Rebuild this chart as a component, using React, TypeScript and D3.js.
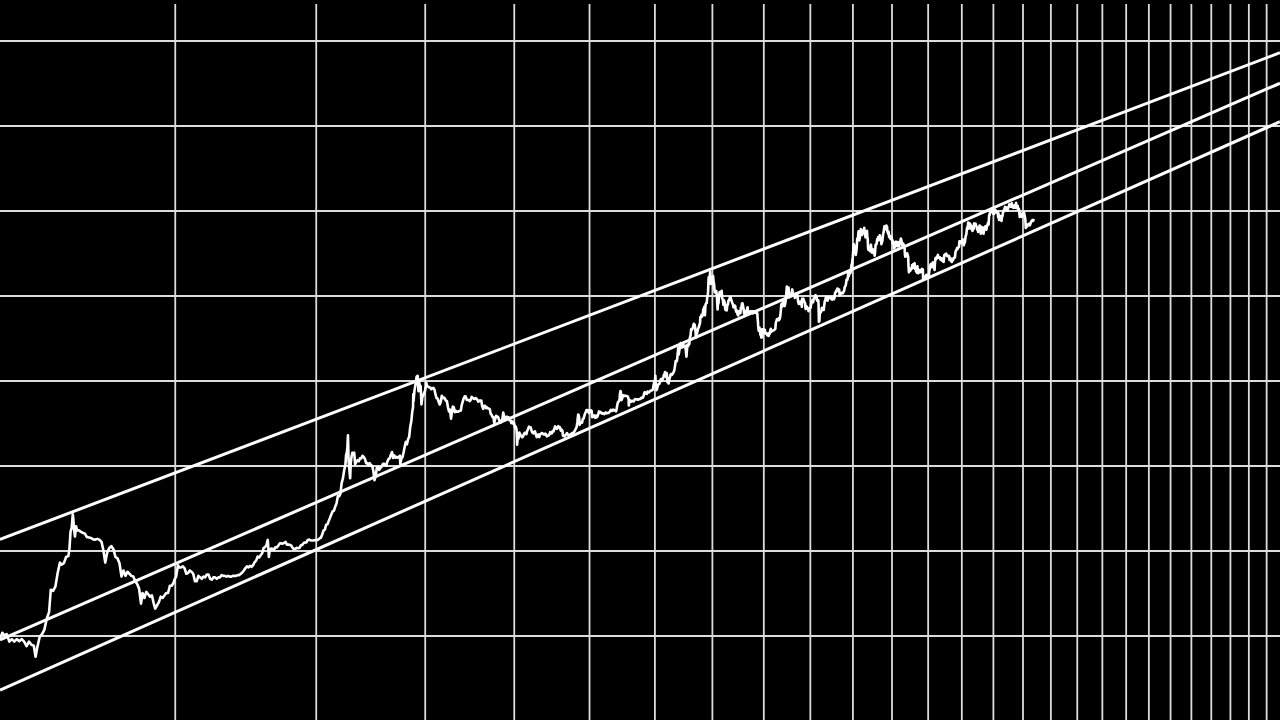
import React from "react";
import * as d3 from "d3";

type Row = [number, number, number]; // [month, day, close price USD]

const GENESIS = Date.UTC(2009, 0, 3);
const DAY_MS = 86400000;

// x: days since genesis (log), y: price USD (log)
const xDomainDays: [number, number] = [763.3, 10508.8];
const yDomainPrice: [number, number] = [1, 1e7];
const gridYears = d3.range(2012, 2038);
const gridPrices = [1, 10, 100, 1e3, 1e4, 1e5, 1e6, 1e7];

// power-law bands: log10(price) = coef + exponent * log10(days)
const bandNames = ["top", "middle", "bottom"];
const bandLog10Coef = [-13.358, -16.625, -17.56];
const bandExponent = [5.028, 5.751, 5.871];

const p2011: Row[] = [[2,5,0.92],[2,9,1.09],[2,12,1.02],[2,16,1.05],[2,20,0.86],[2,24,0.92],[2,28,0.86],[3,4,0.92],[3,8,0.87],[3,12,0.92],[3,16,0.86],[3,20,0.76],[3,24,0.86],[3,28,0.79],[4,1,0.77],[4,4,0.57],[4,7,0.74],[4,11,0.98],[4,15,1.05],[4,19,1.19],[4,23,1.6],[4,27,1.9],[4,30,3.5],[5,4,3.4],[5,8,3.8],[5,12,5.5],[5,16,7.3],[5,19,6.9],[5,23,7.2],[5,27,8.5],[5,31,8.7],[6,2,10.6],[6,4,17],[6,6,18.5],[6,8,27],[6,9,24],[6,10,19],[6,12,14.8],[6,14,19.5],[6,16,17.5],[6,19,17.5],[6,23,16.8],[6,26,16.4],[6,30,16.1],[7,4,14.6],[7,8,14.4],[7,12,14.2],[7,16,13.7],[7,20,13.6],[7,24,13.9],[7,28,13.5],[8,1,12.7],[8,4,10.4],[8,8,7.3],[8,12,9.7],[8,16,10.9],[8,20,11.4],[8,24,10.5],[8,28,8.5],[9,1,8.2],[9,5,7.2],[9,9,5.0],[9,13,5.9],[9,17,5.1],[9,21,5.7],[9,25,5.4],[9,29,5.1],[10,3,5.0],[10,7,4.4],[10,11,4.1],[10,15,3.6],[10,19,2.4],[10,22,3.2],[10,26,2.8],[10,30,3.3],[11,3,3.1],[11,7,2.9],[11,11,3.0],[11,15,2.4],[11,18,2.1],[11,22,2.3],[11,26,2.5],[11,30,2.9],[12,4,2.8],[12,8,3.0],[12,12,3.2],[12,16,3.2],[12,20,3.9],[12,24,3.9],[12,28,4.2],[12,31,4.7]];

const p2012: Row[] = [[1,3,5.0],[1,7,6.8],[1,10,6.4],[1,14,6.4],[1,18,6.6],[1,22,6.3],[1,26,5.4],[1,30,5.5],[2,3,5.9],[2,7,5.7],[2,11,5.4],[2,15,4.4],[2,19,4.4],[2,23,5.1],[2,27,4.9],[3,2,4.7],[3,6,5.0],[3,10,4.9],[3,14,5.3],[3,18,5.3],[3,22,4.7],[3,26,4.6],[3,30,4.9],[4,3,4.9],[4,7,4.7],[4,11,4.9],[4,15,4.9],[4,19,5.2],[4,23,5.1],[4,27,5.1],[5,1,5.0],[5,5,5.1],[5,9,5.0],[5,13,5.0],[5,17,5.1],[5,21,5.1],[5,25,5.1],[5,29,5.2],[6,2,5.2],[6,6,5.4],[6,10,5.6],[6,14,5.9],[6,18,6.3],[6,22,6.6],[6,26,6.4],[6,30,6.7],[7,4,6.5],[7,8,6.8],[7,12,7.4],[7,16,7.7],[7,20,8.6],[7,24,8.4],[7,28,8.9],[8,1,9.4],[8,5,10.9],[8,9,11.1],[8,13,11.9],[8,16,13.5],[8,17,12.0],[8,19,8.5],[8,21,9.9],[8,25,10.7],[8,29,10.6],[9,2,10.3],[9,6,11.1],[9,10,11.0],[9,14,11.6],[9,18,12.3],[9,22,12.3],[9,26,12.2],[9,30,12.4],[10,4,12.8],[10,8,11.9],[10,12,11.9],[10,16,11.8],[10,20,11.6],[10,24,10.9],[10,28,10.5],[11,1,10.6],[11,5,10.9],[11,9,10.8],[11,13,10.9],[11,17,11.7],[11,21,11.8],[11,25,12.4],[11,29,12.6],[12,3,12.6],[12,7,13.5],[12,11,13.6],[12,15,13.4],[12,19,13.3],[12,23,13.3],[12,27,13.4],[12,31,13.5]];

const p2013: Row[] = [[1,3,13.4],[1,7,13.6],[1,11,14.1],[1,15,14.3],[1,19,15.6],[1,23,17.5],[1,27,17.8],[1,31,20.4],[2,4,20.6],[2,8,22.6],[2,12,24.7],[2,16,27.1],[2,20,29.4],[2,24,29.8],[2,28,33.4],[3,4,36.2],[3,8,44.2],[3,12,44.0],[3,16,47.0],[3,20,63.0],[3,24,71.5],[3,28,89.0],[4,1,104],[4,3,135],[4,5,142],[4,7,162],[4,9,230],[4,10,165],[4,11,115],[4,13,95],[4,16,72],[4,18,110],[4,20,126],[4,23,143],[4,26,137],[4,29,144],[5,2,105],[5,6,112],[5,10,117],[5,14,114],[5,18,123],[5,22,123],[5,26,132],[5,30,128],[6,3,121],[6,7,108],[6,11,108],[6,15,101],[6,19,108],[6,23,102],[6,27,101],[7,1,88],[7,5,68],[7,9,76],[7,13,96],[7,17,97],[7,21,90],[7,25,95],[7,29,98],[8,2,105],[8,6,107],[8,10,103],[8,14,101],[8,18,113],[8,22,121],[8,26,123],[8,30,136],[9,3,146],[9,7,124],[9,11,133],[9,15,125],[9,19,128],[9,23,125],[9,27,128],[10,1,132],[10,2,105],[10,6,122],[10,10,127],[10,14,145],[10,18,169],[10,22,192],[10,26,180],[10,30,206],[11,3,220],[11,7,290],[11,11,340],[11,14,430],[11,17,490],[11,18,700],[11,19,580],[11,22,760],[11,26,910],[11,30,1120],[12,4,1150],[12,7,760],[12,9,990],[12,12,880],[12,15,870],[12,18,530],[12,21,640],[12,25,680],[12,29,740],[12,31,760]];

const p2014: Row[] = [[1,4,880],[1,5,950],[1,8,860],[1,12,860],[1,16,840],[1,20,840],[1,24,800],[1,28,820],[2,1,830],[2,5,790],[2,9,690],[2,13,630],[2,17,620],[2,21,570],[2,25,530],[3,1,570],[3,5,670],[3,9,630],[3,13,640],[3,17,620],[3,21,585],[3,25,580],[3,29,490],[4,2,440],[4,6,460],[4,10,360],[4,13,420],[4,17,500],[4,21,490],[4,25,430],[4,29,445],[5,3,435],[5,7,435],[5,11,440],[5,15,445],[5,19,450],[5,23,525],[5,27,575],[5,31,630],[6,4,660],[6,8,655],[6,12,600],[6,16,600],[6,20,595],[6,24,580],[6,28,600],[7,2,650],[7,6,635],[7,10,620],[7,14,615],[7,18,630],[7,22,620],[7,26,595],[7,30,570],[8,3,590],[8,7,585],[8,11,590],[8,15,500],[8,19,470],[8,23,510],[8,27,510],[8,31,480],[9,4,490],[9,8,475],[9,12,475],[9,16,465],[9,20,410],[9,24,400],[9,28,375],[10,2,375],[10,5,320],[10,9,355],[10,13,390],[10,17,380],[10,21,380],[10,25,355],[10,29,335],[11,2,325],[11,6,340],[11,10,365],[11,13,425],[11,17,385],[11,21,350],[11,25,375],[11,29,380],[12,3,375],[12,7,375],[12,11,345],[12,15,345],[12,19,320],[12,23,335],[12,27,315],[12,31,320]];

const p2015: Row[] = [[1,4,285],[1,8,290],[1,11,270],[1,13,225],[1,14,178],[1,16,208],[1,20,210],[1,24,248],[1,28,235],[2,1,226],[2,5,218],[2,9,220],[2,13,236],[2,17,245],[2,21,245],[2,25,237],[3,1,260],[3,5,272],[3,9,290],[3,13,285],[3,17,286],[3,21,260],[3,25,247],[3,29,242],[4,2,253],[4,6,255],[4,10,236],[4,14,219],[4,18,223],[4,22,235],[4,26,219],[4,30,236],[5,4,239],[5,8,244],[5,12,242],[5,16,236],[5,20,234],[5,24,240],[5,28,237],[6,1,223],[6,5,225],[6,9,229],[6,13,233],[6,17,250],[6,21,245],[6,25,242],[6,29,257],[7,3,255],[7,7,270],[7,11,292],[7,15,286],[7,19,273],[7,23,277],[7,27,294],[7,31,284],[8,4,285],[8,8,261],[8,12,267],[8,16,259],[8,19,226],[8,23,228],[8,27,223],[8,31,230],[9,4,236],[9,8,244],[9,12,235],[9,16,229],[9,20,231],[9,24,234],[9,28,239],[10,2,237],[10,6,246],[10,10,246],[10,14,253],[10,18,262],[10,22,275],[10,26,285],[10,30,328],[11,3,403],[11,5,400],[11,8,373],[11,11,305],[11,15,320],[11,19,326],[11,23,323],[11,27,358],[12,1,362],[12,5,388],[12,9,417],[12,13,435],[12,16,455],[12,20,443],[12,24,455],[12,28,422],[12,31,430]];

const p2016: Row[] = [[1,4,433],[1,8,453],[1,12,446],[1,15,375],[1,19,379],[1,23,388],[1,27,395],[1,31,369],[2,4,391],[2,8,374],[2,12,384],[2,16,406],[2,20,439],[2,24,424],[2,28,433],[3,3,421],[3,7,412],[3,11,420],[3,15,415],[3,19,408],[3,23,418],[3,27,426],[3,31,416],[4,4,420],[4,8,419],[4,12,423],[4,16,430],[4,20,441],[4,24,458],[4,28,448],[5,2,444],[5,6,460],[5,10,450],[5,14,456],[5,18,453],[5,22,439],[5,26,471],[5,30,531],[6,3,569],[6,7,575],[6,11,605],[6,13,700],[6,16,760],[6,18,750],[6,21,665],[6,22,595],[6,26,627],[6,30,674],[7,4,678],[7,8,666],[7,12,672],[7,16,665],[7,20,666],[7,24,661],[7,28,654],[8,1,607],[8,2,515],[8,6,588],[8,10,593],[8,14,570],[8,18,574],[8,22,586],[8,26,578],[8,30,576],[9,3,599],[9,7,614],[9,11,606],[9,15,607],[9,19,610],[9,23,602],[9,27,606],[10,1,613],[10,5,612],[10,9,617],[10,13,636],[10,17,638],[10,21,632],[10,25,652],[10,29,715],[11,2,741],[11,6,711],[11,10,715],[11,14,705],[11,18,751],[11,22,740],[11,26,733],[11,30,745],[12,4,766],[12,8,769],[12,12,780],[12,16,781],[12,20,791],[12,24,891],[12,28,975],[12,31,964]];

const p2017: Row[] = [[1,4,1150],[1,6,890],[1,9,905],[1,11,780],[1,15,820],[1,19,900],[1,23,920],[1,27,920],[1,31,970],[2,4,1035],[2,8,1060],[2,12,1000],[2,16,1040],[2,20,1080],[2,24,1180],[2,28,1190],[3,3,1275],[3,7,1230],[3,10,1110],[3,14,1240],[3,18,970],[3,22,1040],[3,25,935],[3,29,1040],[4,2,1100],[4,6,1190],[4,10,1210],[4,14,1180],[4,18,1210],[4,22,1230],[4,26,1290],[4,30,1350],[5,4,1510],[5,8,1720],[5,12,1690],[5,16,1730],[5,20,2040],[5,24,2450],[5,27,2050],[5,31,2300],[6,4,2520],[6,8,2790],[6,12,2660],[6,16,2470],[6,20,2760],[6,24,2620],[6,28,2580],[7,2,2500],[7,6,2610],[7,10,2390],[7,15,1930],[7,18,2270],[7,21,2670],[7,25,2560],[7,29,2730],[8,2,2710],[8,6,3230],[8,10,3420],[8,14,4060],[8,18,4000],[8,22,4090],[8,26,4350],[8,31,4700],[9,2,4580],[9,6,4600],[9,10,4120],[9,14,3240],[9,17,3700],[9,21,3630],[9,25,3930],[9,29,4170],[10,3,4310],[10,7,4610],[10,11,4830],[10,13,5650],[10,17,5600],[10,21,6010],[10,25,5740],[10,29,6150],[11,2,7020],[11,6,6960],[11,8,7460],[11,12,5950],[11,16,7870],[11,20,8200],[11,24,8250],[11,28,9890],[11,30,9940],[12,3,11250],[12,7,16600],[12,10,15060],[12,13,16400],[12,17,19140],[12,20,16500],[12,22,13830],[12,26,15840],[12,29,14600],[12,31,14160]];

const p2018: Row[] = [[1,3,15200],[1,6,17170],[1,9,14600],[1,12,13900],[1,16,11180],[1,19,11600],[1,23,10840],[1,27,11440],[1,31,10220],[2,2,8830],[2,5,6960],[2,8,8270],[2,11,8130],[2,15,10170],[2,19,11120],[2,22,10000],[2,26,10320],[3,2,11000],[3,5,11500],[3,9,9230],[3,13,9150],[3,17,7890],[3,21,8910],[3,25,8460],[3,29,7100],[4,1,6840],[4,5,6810],[4,9,6780],[4,13,7930],[4,17,7900],[4,21,8860],[4,25,8860],[4,29,9420],[5,3,9700],[5,6,9650],[5,10,9040],[5,14,8670],[5,18,8240],[5,22,8010],[5,26,7350],[5,30,7400],[6,3,7720],[6,7,7690],[6,11,6780],[6,15,6500],[6,19,6750],[6,23,6120],[6,28,5900],[7,2,6620],[7,6,6600],[7,10,6290],[7,14,6270],[7,18,7380],[7,22,7400],[7,25,8180],[7,29,8220],[8,2,7610],[8,6,6950],[8,10,6180],[8,14,6200],[8,18,6380],[8,22,6360],[8,26,6710],[8,30,6980],[9,4,7370],[9,8,6250],[9,12,6330],[9,16,6500],[9,20,6480],[9,24,6610],[9,28,6630],[10,2,6540],[10,6,6580],[10,11,6240],[10,15,6610],[10,20,6500],[10,25,6420],[10,31,6310],[11,5,6390],[11,10,6400],[11,14,6200],[11,15,5700],[11,19,4820],[11,20,4450],[11,24,3900],[11,28,4280],[12,2,4140],[12,6,3520],[12,10,3440],[12,14,3240],[12,16,3250],[12,20,4060],[12,24,4040],[12,28,3850],[12,31,3740]];

const p2019: Row[] = [[1,5,4040],[1,9,4000],[1,10,3630],[1,14,3700],[1,19,3680],[1,23,3570],[1,28,3440],[2,2,3520],[2,7,3400],[2,8,3660],[2,14,3590],[2,18,3880],[2,23,4120],[2,24,3760],[3,1,3830],[3,8,3880],[3,15,3950],[3,22,4000],[3,29,4100],[4,2,4880],[4,6,5060],[4,10,5300],[4,16,5200],[4,23,5450],[4,26,5200],[5,1,5350],[5,6,5750],[5,11,6900],[5,14,7990],[5,17,7360],[5,22,7650],[5,27,8740],[5,31,8550],[6,4,7690],[6,9,7640],[6,14,8230],[6,18,9080],[6,22,10700],[6,26,12930],[6,28,12400],[7,2,10580],[7,6,11190],[7,10,12570],[7,14,10260],[7,17,9690],[7,22,10320],[7,26,9880],[7,31,10090],[8,4,10810],[8,8,11950],[8,13,10850],[8,17,10360],[8,21,10140],[8,25,10140],[8,29,9510],[9,3,10620],[9,8,10400],[9,13,10360],[9,18,10160],[9,24,8560],[9,29,8050],[10,4,8150],[10,10,8600],[10,16,8000],[10,22,8220],[10,24,7460],[10,26,9250],[10,31,9200],[11,5,9310],[11,10,8810],[11,15,8470],[11,20,8120],[11,22,7150],[11,25,7050],[11,30,7570],[12,5,7400],[12,10,7220],[12,15,7070],[12,17,6640],[12,21,7150],[12,26,7230],[12,31,7190]];

const p2020: Row[] = [[1,4,7400],[1,8,8080],[1,14,8820],[1,19,8700],[1,24,8440],[1,29,9390],[2,3,9320],[2,8,9900],[2,13,10240],[2,17,9930],[2,22,9660],[2,26,8780],[3,2,8910],[3,7,8900],[3,9,7940],[3,12,4970],[3,16,5010],[3,19,6190],[3,23,6420],[3,27,6370],[4,1,6640],[4,6,7270],[4,11,6860],[4,16,7120],[4,21,6840],[4,26,7700],[4,30,8620],[5,5,9010],[5,9,9530],[5,14,9790],[5,19,9730],[5,24,8790],[5,29,9420],[6,3,9670],[6,8,9760],[6,13,9470],[6,18,9410],[6,23,9630],[6,28,9120],[7,3,9070],[7,8,9430],[7,13,9260],[7,18,9170],[7,23,9600],[7,28,10950],[8,2,11050],[8,7,11600],[8,12,11580],[8,17,12250],[8,22,11680],[8,27,11330],[9,1,11920],[9,5,10170],[9,10,10340],[9,15,10790],[9,20,10920],[9,25,10740],[9,30,10780],[10,5,10790],[10,10,11300],[10,15,11500],[10,21,12820],[10,26,13030],[10,31,13800],[11,5,15590],[11,10,15300],[11,15,15960],[11,20,18680],[11,24,19160],[11,26,17150],[11,30,19630],[12,5,19150],[12,10,18550],[12,16,21310],[12,20,23480],[12,24,23730],[12,27,26270],[12,31,28990]];

const p2021: Row[] = [[1,3,32780],[1,8,40800],[1,11,35570],[1,14,39190],[1,18,36630],[1,22,33000],[1,27,30430],[1,31,33110],[2,4,36930],[2,8,46200],[2,12,47910],[2,16,49200],[2,21,57540],[2,23,48820],[2,28,45140],[3,4,48380],[3,8,52380],[3,13,61190],[3,18,57860],[3,22,54530],[3,25,52310],[3,31,58920],[4,5,59090],[4,10,59790],[4,14,63500],[4,18,56220],[4,22,51700],[4,25,49000],[4,30,57750],[5,5,57190],[5,9,58230],[5,12,49150],[5,16,46430],[5,19,36700],[5,23,34770],[5,27,38440],[5,31,37300],[6,4,36870],[6,8,33560],[6,13,39100],[6,15,40170],[6,19,35480],[6,22,32500],[6,26,32240],[6,30,35040],[7,4,35290],[7,9,33860],[7,14,32820],[7,20,29800],[7,24,33800],[7,28,39990],[8,1,39850],[8,6,40870],[8,11,45590],[8,14,47100],[8,18,44800],[8,22,49320],[8,27,49000],[9,1,48830],[9,6,51750],[9,8,46090],[9,13,44960],[9,18,48280],[9,21,40700],[9,25,42700],[9,30,43790],[10,4,49220],[10,8,53970],[10,12,56040],[10,16,60860],[10,20,65990],[10,24,61390],[10,28,60930],[11,1,61000],[11,5,61120],[11,8,67550],[11,10,64950],[11,14,65470],[11,18,56900],[11,22,56280],[11,26,53570],[11,30,57000],[12,4,49400],[12,8,50580],[12,12,50100],[12,16,47630],[12,20,46680],[12,24,50800],[12,28,47590],[12,31,46310]];

const p2022: Row[] = [[1,4,45900],[1,8,41680],[1,12,43950],[1,16,43100],[1,21,36280],[1,24,36650],[1,28,37710],[2,1,38740],[2,5,41410],[2,10,43570],[2,14,42590],[2,18,40000],[2,24,38330],[2,28,43190],[3,4,39140],[3,8,38740],[3,12,38810],[3,16,41120],[3,20,41260],[3,24,43970],[3,29,47470],[4,2,45810],[4,6,43170],[4,11,39530],[4,15,40550],[4,20,41500],[4,25,40430],[4,30,37710],[5,5,36550],[5,9,30300],[5,12,28940],[5,16,29830],[5,20,29200],[5,25,29540],[5,31,31790],[6,5,29900],[6,10,29090],[6,13,22490],[6,18,19000],[6,22,19970],[6,26,21030],[6,30,19780],[7,5,20190],[7,10,20820],[7,15,20830],[7,20,23150],[7,26,21310],[7,30,23630],[8,4,22620],[8,10,23950],[8,14,24310],[8,19,20830],[8,24,21530],[8,28,19550],[9,2,19950],[9,6,18790],[9,12,22370],[9,18,19420],[9,21,18480],[9,26,19220],[10,1,19310],[10,6,20160],[10,12,19060],[10,18,19330],[10,23,19570],[10,29,20820],[11,3,20150],[11,7,20600],[11,9,15880],[11,14,16620],[11,21,15790],[11,26,16450],[12,1,16970],[12,6,17090],[12,13,17780],[12,18,16740],[12,23,16780],[12,31,16550]];

const p2023: Row[] = [[1,5,16830],[1,9,17180],[1,13,19930],[1,18,20680],[1,23,22920],[1,29,23740],[2,3,23430],[2,9,21800],[2,15,24330],[2,20,24830],[2,25,23170],[3,3,22350],[3,10,20190],[3,13,24110],[3,18,27400],[3,22,28170],[3,28,27270],[4,2,28200],[4,10,29650],[4,14,30400],[4,20,28250],[4,26,28420],[5,1,28090],[5,7,28430],[5,12,26800],[5,18,26820],[5,24,26330],[5,30,27700],[6,5,25730],[6,10,25850],[6,15,25120],[6,21,30080],[6,27,30690],[7,3,31150],[7,9,30170],[7,13,31470],[7,19,29860],[7,26,29350],[8,1,29700],[8,8,29770],[8,14,29400],[8,17,26620],[8,23,26430],[8,29,27730],[9,4,25970],[9,11,25130],[9,18,26760],[9,25,26300],[10,1,27990],[10,8,27940],[10,16,28520],[10,23,33090],[10,29,34540],[11,5,35050],[11,9,36700],[11,16,36160],[11,23,37300],[11,30,37720],[12,5,44080],[12,10,43800],[12,16,41930],[12,22,43970],[12,28,42580],[12,31,42280]];

const p2024: Row[] = [[1,5,44160],[1,11,46340],[1,16,43150],[1,23,39510],[1,29,43300],[2,4,42580],[2,10,47750],[2,15,51840],[2,20,52280],[2,28,62500],[3,5,63800],[3,10,68950],[3,13,73080],[3,19,61910],[3,25,70000],[3,31,71330],[4,7,69360],[4,13,63900],[4,17,61280],[4,23,66400],[4,30,60610],[5,1,58250],[5,7,62880],[5,14,61590],[5,20,71430],[5,27,68370],[6,5,71080],[6,11,67320],[6,18,65140],[6,24,60280],[7,1,62680],[7,5,56700],[7,12,57900],[7,18,63940],[7,22,67580],[7,29,66800],[8,2,61440],[8,5,54020],[8,12,59350],[8,19,59490],[8,25,64160],[9,1,57300],[9,6,53950],[9,13,60550],[9,20,63200],[9,27,65890],[10,3,60630],[10,10,60300],[10,16,67610],[10,22,67380],[10,29,72730],[11,5,69500],[11,11,88700],[11,13,90000],[11,17,89800],[11,22,98900],[11,27,95900],[12,4,98800],[12,9,97400],[12,16,106100],[12,19,97500],[12,24,98700],[12,30,92600]];

const p2025: Row[] = [[1,5,98300],[1,9,92500],[1,13,94500],[1,20,101100],[1,22,103700],[1,27,102100],[2,2,97700],[2,8,96500],[2,14,97500],[2,20,98300],[2,25,88700],[2,28,84400],[3,2,94200],[3,10,78500],[3,16,82600],[3,24,87500],[3,30,82300],[4,4,83800],[4,8,76300],[4,14,84500],[4,21,87500],[4,25,94700],[5,1,96500],[5,8,103200],[5,14,103500],[5,22,111700],[5,28,107800],[6,5,101500],[6,10,110200],[6,16,106800],[6,22,100900],[6,28,107300],[7,3,109600],[7,10,116000],[7,14,119800],[7,21,117400],[7,28,118100],[8,2,112500],[8,8,116700],[8,13,123300],[8,19,112900],[8,25,110100],[9,1,109200],[9,7,111100],[9,13,115900],[9,18,117100],[9,25,109000],[10,1,118600],[10,6,124700],[10,10,113200],[10,16,108200],[10,22,107500],[10,27,114100],[11,4,101500],[11,10,106000],[11,17,92200],[11,21,85000],[11,26,90500],[12,3,93500],[12,9,92700],[12,15,86400],[12,18,85500],[12,24,87300],[12,31,87500]];

const p2026: Row[] = [[1,5,93800],[1,14,97000],[1,20,89500],[1,25,86500],[1,31,78600],[2,5,63000],[2,9,70500],[2,15,68800],[2,22,65500],[3,1,67000],[3,10,69500],[3,20,71000],[3,30,68000],[4,10,72500],[4,20,76000],[5,1,78000],[5,10,76500],[5,22,80500]];

const yearSeries: [number, Row[]][] = [
  [2011, p2011], [2012, p2012], [2013, p2013], [2014, p2014], [2015, p2015],
  [2016, p2016], [2017, p2017], [2018, p2018], [2019, p2019], [2020, p2020],
  [2021, p2021], [2022, p2022], [2023, p2023], [2024, p2024], [2025, p2025],
  [2026, p2026],
];

type Pt = { days: number; price: number };

const toDays = (y: number, m: number, d: number) => (Date.UTC(y, m - 1, d) - GENESIS) / DAY_MS;

const priceData: Pt[] = yearSeries.flatMap(([yr, rows]) =>
  rows.map(([m, d, p]) => ({ days: toDays(yr, m, d), price: p }))
);

export default function App() {
  const W = 1280;
  const H = 720;
  const x = d3.scaleLog().domain(xDomainDays).range([0, W]);
  const y = d3.scaleLog().domain(yDomainPrice).range([636, 41]);
  const line = d3
    .line<Pt>()
    .x((d) => x(d.days))
    .y((d) => y(d.price));

  const bandPaths = bandNames.map((name, i) => {
    const pts: Pt[] = xDomainDays.map((dd) => ({
      days: dd,
      price: Math.pow(10, bandLog10Coef[i] + bandExponent[i] * Math.log10(dd)),
    }));
    return { name, d: line(pts) || "" };
  });

  return (
    <svg
      width={W}
      height={H}
      style={{ position: "fixed", left: 0, top: 0, display: "block", background: "#000" }}
    >
      <rect x={0} y={0} width={W} height={H} fill="#000" />
      <g>
        {gridPrices.map((p) => (
          <line key={"h" + p} x1={0} x2={W} y1={y(p)} y2={y(p)} stroke="#dcdcdc" strokeWidth={1.8} />
        ))}
        {gridYears.map((yr) => {
          const gx = x(toDays(yr, 1, 1));
          return <line key={"v" + yr} x1={gx} x2={gx} y1={4} y2={H} stroke="#dcdcdc" strokeWidth={1.8} />;
        })}
      </g>
      <g>
        {bandPaths.map((b) => (
          <path key={b.name} d={b.d} fill="none" stroke="#fff" strokeWidth={3} />
        ))}
      </g>
      <path
        d={line(priceData) || ""}
        fill="none"
        stroke="#fff"
        strokeWidth={2.6}
        strokeLinejoin="round"
      />
    </svg>
  );
}
